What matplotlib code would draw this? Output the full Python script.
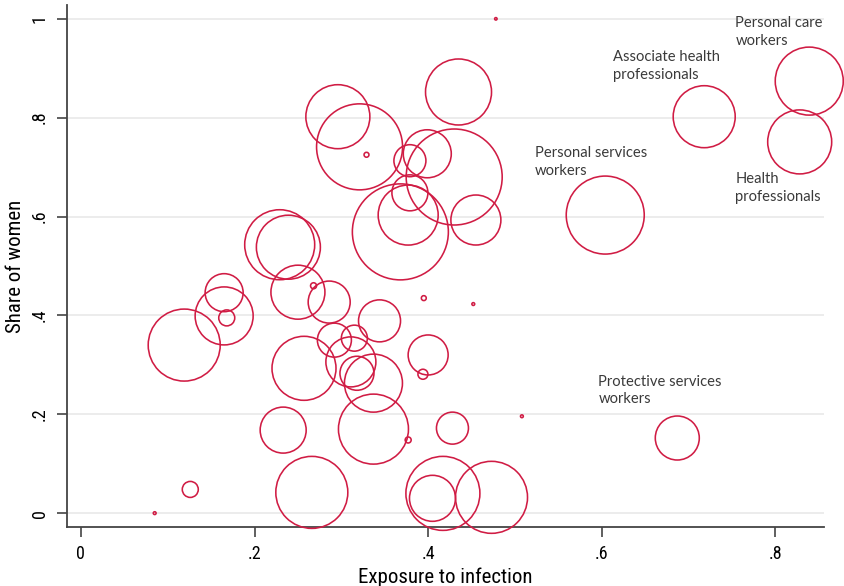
import matplotlib
matplotlib.use('Agg')
import matplotlib.pyplot as plt
from matplotlib import font_manager

# exposure to infection (x), share of women (y), bubble weight (employment)
exposure = [0.085, 0.126, 0.119, 0.165, 0.168, 0.165, 0.229, 0.239, 0.250, 0.268,
            0.286, 0.292, 0.315, 0.257, 0.311, 0.318, 0.337, 0.344, 0.233, 0.337,
            0.377, 0.266, 0.296, 0.321, 0.329, 0.379, 0.399, 0.430, 0.379, 0.368,
            0.377, 0.455, 0.435, 0.395, 0.452, 0.400, 0.394, 0.428, 0.417, 0.405,
            0.473, 0.508, 0.478, 0.604, 0.718, 0.839, 0.828, 0.687]
share_women = [0.000, 0.048, 0.340, 0.399, 0.395, 0.446, 0.543, 0.538, 0.447, 0.460,
               0.427, 0.350, 0.354, 0.293, 0.306, 0.283, 0.263, 0.389, 0.168, 0.170,
               0.148, 0.042, 0.802, 0.741, 0.725, 0.713, 0.727, 0.680, 0.648, 0.569,
               0.603, 0.593, 0.852, 0.435, 0.423, 0.320, 0.281, 0.172, 0.040, 0.030,
               0.032, 0.196, 1.000, 0.603, 0.802, 0.874, 0.751, 0.152]
weight = [0.02, 0.64, 12.96, 8.41, 0.64, 3.61, 12.25, 10.24, 7.29, 0.09,
          4.41, 2.89, 1.69, 10.24, 6.25, 2.89, 8.41, 4.41, 5.29, 12.25,
          0.09, 12.96, 10.24, 18.49, 0.06, 2.56, 5.76, 23.04, 3.24, 23.04,
          9.00, 6.25, 10.89, 0.06, 0.02, 4.00, 0.25, 2.56, 13.69, 5.29,
          12.96, 0.02, 0.015, 15.21, 9.61, 11.56, 10.24, 4.84]

labels = ['Personal care\nworkers', 'Associate health\nprofessionals',
          'Personal services\nworkers', 'Health\nprofessionals',
          'Protective services\nworkers']
label_x = [0.754, 0.613, 0.523, 0.754, 0.596]
label_y = [0.974, 0.904, 0.710, 0.657, 0.248]

xticks = [0, 0.2, 0.4, 0.6, 0.8]
xtick_labels = ['0', '.2', '.4', '.6', '.8']
yticks = [0, 0.2, 0.4, 0.6, 0.8, 1]
ytick_labels = ['0', '.2', '.4', '.6', '.8', '1']

# pick a condensed sans for the axes text if one is there (Stata look)
fonts = font_manager.fontManager.ttflist
names = {f.name for f in fonts}
axis_font = dict(family='Liberation Sans')
if 'Liberation Sans Narrow' in names:
    axis_font = dict(family='Liberation Sans Narrow')
elif 'Roboto Condensed' in names:
    axis_font = dict(family='Roboto Condensed')
elif any(f.name == 'DejaVu Sans' and f.stretch == 'condensed' for f in fonts):
    axis_font = dict(family='DejaVu Sans', stretch='condensed')

RED = '#d01c44'
fig = plt.figure(figsize=(8.44, 5.86), dpi=100)
ax = fig.add_axes([0.0794, 0.1007, 0.8969, 0.8908])

# px radius r -> s = (2*r*0.72)^2 ; weight = r^2/100
sizes = [w * 207.36 for w in weight]
ax.scatter(exposure, share_women, s=sizes, facecolors='none', edgecolors=RED,
           linewidths=1.15, zorder=3, clip_on=False)

for txt, lx, ly in zip(labels, label_x, label_y):
    ax.text(lx, ly, txt, ha='left', va='center', fontsize=10.6, family='Lato',
            color='#3a3a3a', linespacing=1.35, zorder=4)

ax.set_xlim(-0.016, 0.856)
ax.set_ylim(-0.028, 1.028)
ax.set_xticks(xticks)
ax.set_xticklabels(xtick_labels, fontsize=13, **axis_font)
ax.set_yticks(yticks)
ax.set_yticklabels(ytick_labels, fontsize=13, rotation=90, va='center', **axis_font)
ax.tick_params(length=7, width=1.2, color='#444444', pad=6)
ax.yaxis.grid(True, color='#ebebeb', linewidth=1.3, zorder=0)
ax.set_axisbelow(True)
for side in ['top', 'right']:
    ax.spines[side].set_visible(False)
for side in ['left', 'bottom']:
    ax.spines[side].set_color('#444444')
    ax.spines[side].set_linewidth(1.3)

ax.set_xlabel('Exposure to infection', fontsize=15, labelpad=3, **axis_font)
ax.set_ylabel('Share of women', fontsize=15, labelpad=4, **axis_font)

fig.savefig('out.png', dpi=100)
